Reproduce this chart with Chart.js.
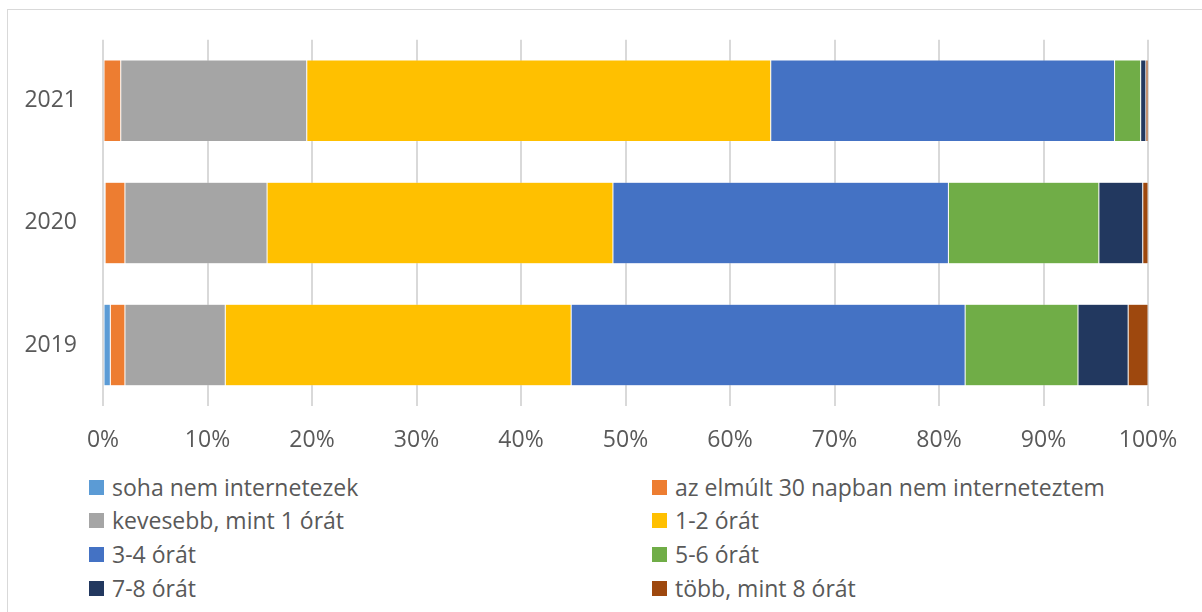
<!DOCTYPE html>
<html>
<head>
<meta charset="utf-8">
<script src="https://cdn.jsdelivr.net/npm/chart.js@4/dist/chart.umd.min.js"></script>
<style>
  html, body { margin: 0; padding: 0; background: #fff; overflow: hidden; }
  #wrap { position: relative; width: 1202px; height: 612px; overflow: hidden; }
  #frame { position: absolute; left: 7px; top: 9px; width: 1400px; height: 800px; border: 1px solid #d9d9d9; box-sizing: border-box; }
  #chartBox { position: absolute; left: 0; top: 0; width: 1202px; height: 470px; }
  .lg { position: absolute; display: flex; align-items: center; font-family: "Open Sans", sans-serif; font-size: 23px; color: #595959; white-space: nowrap; height: 30px; }
  .lg span.box { display: inline-block; width: 15px; height: 15px; margin-right: 8px; }
</style>
</head>
<body>
<div id="wrap">
  <div id="frame"></div>
  <div id="chartBox"><canvas id="c" width="1202" height="470"></canvas></div>
  <div id="legend"></div>
</div>
<script>
// Years shown on the vertical axis, top to bottom
const years = ['2021', '2020', '2019'];

// Share of respondents (%) per daily internet-use band, ordered as years
const soha      = [0.0, 0.2, 0.7];
const nem30     = [1.7, 1.9, 1.4];
const kevesebb  = [17.8, 13.6, 9.6];
const ora12     = [44.4, 33.1, 33.1];
const ora34     = [32.9, 32.1, 37.7];
const ora56     = [2.5, 14.4, 10.8];
const ora78     = [0.5, 4.2, 4.8];
const tobb8     = [0.2, 0.5, 1.9];

const seriesNames = [
  'soha nem internetezek',
  'az elmúlt 30 napban nem interneteztem',
  'kevesebb, mint 1 órát',
  '1-2 órát',
  '3-4 órát',
  '5-6 órát',
  '7-8 órát',
  'több, mint 8 órát'
];
const seriesValues = [soha, nem30, kevesebb, ora12, ora34, ora56, ora78, tobb8];
const seriesColors = ['#5B9BD5', '#ED7D31', '#A5A5A5', '#FFC000', '#4472C4', '#70AD47', '#22385F', '#9E480E'];

// Percentage tick labels along the horizontal axis
const tickValues = [0, 10, 20, 30, 40, 50, 60, 70, 80, 90, 100];
const tickLabels = ['0%', '10%', '20%', '30%', '40%', '50%', '60%', '70%', '80%', '90%', '100%'];

const FONT = { family: '"Open Sans", sans-serif', size: 23 };

const datasets = seriesNames.map((name, i) => ({
  label: name,
  data: seriesValues[i],
  backgroundColor: seriesColors[i],
  borderColor: 'rgba(255,255,255,0.35)',
  borderWidth: 0.5,
  borderSkipped: false,
  barPercentage: 0.668,
  categoryPercentage: 1.0
}));

new Chart(document.getElementById('c'), {
  type: 'bar',
  data: { labels: years, datasets },
  options: {
    indexAxis: 'y',
    responsive: false,
    animation: false,
    layout: { padding: { top: 38, right: 54, left: 0, bottom: 0 } },
    plugins: { legend: { display: false }, tooltip: { enabled: false } },
    scales: {
      x: {
        stacked: true,
        min: 0,
        max: 100,
        afterBuildTicks: (axis) => { axis.ticks = tickValues.map(v => ({ value: v })); },
        afterFit: (axis) => { axis.height = 64; },
        grid: { color: '#d9d9d9', lineWidth: 2, drawTicks: false },
        border: { display: false },
        ticks: {
          padding: 21,
          color: '#595959',
          font: FONT,
          callback: (v) => tickLabels[tickValues.indexOf(v)]
        }
      },
      y: {
        stacked: true,
        afterFit: (axis) => { axis.width = 103; },
        grid: { display: false, drawTicks: false, tickLength: 0 },
        border: { display: false },
        ticks: { padding: 26, color: '#595959', font: FONT }
      }
    }
  }
});

// Two-column legend below the plot
const legend = document.getElementById('legend');
const rowCenters = [487, 520, 554, 588];
seriesNames.forEach((name, i) => {
  const col = i % 2;
  const row = Math.floor(i / 2);
  const item = document.createElement('div');
  item.className = 'lg';
  item.style.left = (col === 0 ? 89 : 652) + 'px';
  item.style.top = (rowCenters[row] - 15) + 'px';
  const box = document.createElement('span');
  box.className = 'box';
  box.style.background = seriesColors[i];
  item.appendChild(box);
  item.appendChild(document.createTextNode(name));
  legend.appendChild(item);
});
</script>
</body>
</html>
